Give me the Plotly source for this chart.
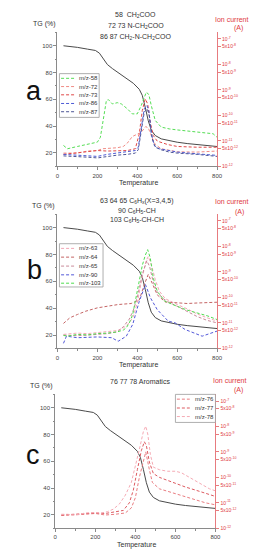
import numpy as np
import plotly.graph_objects as go

# ---------------- data ----------------
temp_tg = [30, 60, 100, 150, 190, 210, 230, 250, 275, 300, 340, 380, 410, 425, 440, 455, 470, 490, 520, 560, 600, 650, 700, 750, 800]
tg = [100, 99.6, 98.8, 97.5, 96.5, 94.5, 90, 86, 83, 80.5, 76.5, 72, 67.5, 63, 54, 44, 37, 33, 30.5, 29, 28, 27, 26.2, 25.5, 24.8]

# ion currents given as log10(A)
a_t58 = [30, 50, 100, 150, 200, 215, 230, 245, 255, 275, 300, 320, 350, 375, 400, 420, 445, 458, 470, 490, 520, 560, 600, 650, 700, 750, 780, 800]
a_mz58 = [-11.18, -11.31, -11.22, -11.14, -11.05, -10.86, -10.20, -9.42, -9.38, -9.55, -9.50, -9.55, -9.74, -9.94, -9.94, -9.61, -9.09, -9.18, -9.61, -10.20, -10.46, -10.53, -10.57, -10.62, -10.66, -10.70, -10.72, -10.86]
a_t72 = [30, 100, 150, 200, 225, 250, 300, 330, 350, 375, 400, 420, 442, 455, 470, 490, 520, 560, 600, 700, 800]
a_mz72 = [-11.48, -11.48, -11.40, -11.38, -11.31, -11.30, -11.27, -11.22, -11.09, -10.83, -10.72, -10.66, -10.44, -10.49, -10.79, -11.14, -11.31, -11.38, -11.43, -11.44, -11.40]
a_t73 = [30, 100, 150, 200, 250, 300, 350, 390, 410, 425, 440, 452, 465, 480, 500, 550, 600, 700, 800]
a_mz73 = [-11.53, -11.48, -11.44, -11.38, -11.40, -11.38, -11.38, -11.31, -10.72, -9.81, -9.35, -9.55, -10.27, -10.79, -11.01, -11.14, -11.22, -11.25, -11.25]
a_t86 = [30, 100, 150, 200, 250, 300, 350, 390, 405, 420, 435, 448, 458, 470, 485, 510, 550, 600, 700, 800]
a_mz86 = [-11.53, -11.56, -11.59, -11.61, -11.53, -11.48, -11.44, -11.38, -11.25, -10.46, -9.74, -9.61, -9.81, -10.72, -11.18, -11.31, -11.38, -11.44, -11.51, -11.57]
a_t87 = [30, 100, 150, 200, 250, 300, 350, 390, 405, 420, 435, 450, 460, 475, 490, 520, 560, 600, 700, 800]
a_mz87 = [-11.59, -11.61, -11.64, -11.67, -11.61, -11.56, -11.53, -11.48, -11.35, -10.59, -9.87, -9.74, -10.01, -10.92, -11.25, -11.35, -11.44, -11.48, -11.53, -11.61]

b_t63 = [30, 100, 150, 200, 250, 300, 330, 360, 380, 400, 425, 445, 455, 470, 490, 510, 540, 570, 600, 650, 700, 750, 800]
b_mz63 = [-11.45, -11.40, -11.42, -11.38, -11.35, -11.30, -11.20, -11.00, -10.75, -10.20, -9.20, -8.55, -8.40, -8.70, -9.30, -9.75, -10.05, -10.15, -10.28, -10.45, -10.65, -10.80, -10.93]
b_t64 = [30, 62, 100, 142, 200, 248, 304, 369, 410, 435, 455, 475, 500, 540, 600, 650, 700, 750, 800]
b_mz64 = [-11.02, -10.80, -10.67, -10.54, -10.41, -10.35, -10.28, -10.24, -10.10, -9.50, -9.10, -9.45, -9.90, -10.18, -10.22, -10.24, -10.22, -10.21, -10.19]
b_t65 = [30, 100, 150, 200, 250, 300, 330, 360, 380, 400, 425, 448, 462, 480, 500, 530, 560, 600, 650, 700, 750, 800]
b_mz65 = [-11.48, -11.50, -11.48, -11.45, -11.42, -11.35, -11.15, -10.85, -10.50, -10.00, -9.10, -8.56, -8.80, -9.40, -9.80, -10.05, -10.20, -10.35, -10.55, -10.75, -10.90, -11.00]
b_t90 = [30, 45, 100, 200, 272, 304, 345, 377, 410, 441, 466, 500, 555, 590, 640, 725, 800]
b_mz90 = [-11.80, -11.52, -11.58, -11.55, -11.58, -11.72, -11.52, -11.06, -10.15, -9.50, -10.02, -10.48, -10.93, -11.00, -11.26, -11.52, -11.32]
b_t103 = [30, 50, 100, 150, 200, 250, 300, 330, 345, 360, 377, 400, 425, 440, 452, 465, 480, 500, 538, 600, 650, 700, 750, 800]
b_mz103 = [-11.49, -11.52, -11.45, -11.47, -11.42, -11.40, -11.35, -11.28, -11.19, -11.00, -10.67, -9.80, -8.75, -8.35, -8.13, -8.45, -9.24, -9.76, -10.15, -10.35, -10.50, -10.61, -10.72, -10.87]

c_t76 = [30, 100, 150, 200, 250, 300, 350, 380, 400, 420, 440, 452, 470, 485, 520, 560, 600, 650, 700, 750, 800]
c_mz76 = [-11.50, -11.48, -11.45, -11.42, -11.48, -11.45, -11.40, -11.20, -10.80, -10.00, -9.30, -9.00, -9.70, -10.20, -10.45, -10.55, -10.65, -10.75, -10.90, -11.00, -11.08]
c_t77 = [30, 100, 150, 200, 250, 300, 340, 370, 390, 410, 430, 445, 455, 470, 490, 520, 560, 600, 650, 700, 750, 800]
c_mz77 = [-11.48, -11.45, -11.42, -11.40, -11.42, -11.35, -11.30, -11.00, -10.50, -9.70, -8.95, -8.60, -8.75, -9.40, -9.85, -10.00, -10.12, -10.22, -10.38, -10.50, -10.62, -10.75]
c_t78 = [30, 60, 100, 150, 200, 230, 260, 290, 320, 350, 380, 400, 420, 440, 452, 462, 475, 490, 520, 560, 600, 630, 670, 720, 770, 800]
c_mz78 = [-11.45, -11.45, -11.48, -11.40, -11.38, -11.40, -11.35, -11.25, -11.05, -10.70, -10.20, -9.60, -8.90, -8.20, -7.99, -8.30, -9.10, -9.60, -9.70, -9.76, -9.76, -9.82, -10.00, -10.25, -10.45, -10.53]

ion_tickvals = [1e-12, 5e-12, 1e-11, 5e-11, 1e-10, 5e-10, 1e-9, 5e-9, 1e-8, 5e-8, 1e-7]
ion_ticktext = ["10<sup>-12</sup>", "5x10<sup>-12</sup>", "10<sup>-11</sup>", "5x10<sup>-11</sup>",
                "10<sup>-10</sup>", "5x10<sup>-10</sup>", "10<sup>-9</sup>", "5x10<sup>-9</sup>",
                "10<sup>-8</sup>", "5x10<sup>-8</sup>", "10<sup>-7</sup>"]

W, H = 259, 550
FONT = "Liberation Sans, Arial, sans-serif"
RED = "#e0393e"


def px(x):
    return x / W


def py(y):
    return 1 - y / H


panels = [
    dict(letter="a", x0=49, x1=213.7, top=24.5, bot=159.2,
         series=[("m/z-58", a_t58, a_mz58, "#55dd55"),
                 ("m/z-72", a_t72, a_mz72, "#f08a84"),
                 ("m/z-73", a_t73, a_mz73, "#e04848"),
                 ("m/z-86", a_t86, a_mz86, "#4d5bd6"),
                 ("m/z-87", a_t87, a_mz87, "#4c5595")],
         title=["58  CH<sub>2</sub>COO", "72 73 N-CH<sub>2</sub>COO", "86 87 CH<sub>2</sub>-N-CH<sub>2</sub>COO"],
         title_x=130, title_y=[7.5, 18.3, 29.2],
         tg_lbl=(36, 15.7), ion_lbl=(229, 11.7), a_lbl=(236, 20.3), letter_pos=(25, 83),
         temp_pos=(132.5, 175.7),
         leg=dict(x0=51, x1=92, y0=66, y1=110, rows=[70.7, 79, 87.3, 96, 104.3], lx0=52.7, lx1=66.7, tx=69, fs=6)),
    dict(letter="b", x0=49, x1=213.7, top=207.3, bot=342.3,
         series=[("m/z-63", b_t63, b_mz63, "#f2a6b4"),
                 ("m/z-64", b_t64, b_mz64, "#c46464"),
                 ("m/z-65", b_t65, b_mz65, "#c98a99"),
                 ("m/z-90", b_t90, b_mz90, "#5258d8"),
                 ("m/z-103", b_t103, b_mz103, "#4fdc4f")],
         title=["63 64 65 C<sub>6</sub>H<sub>x</sub>(X=3,4,5)", "90 C<sub>6</sub>H<sub>5</sub>-CH", "103 C<sub>6</sub>H<sub>5</sub>-CH-CH"],
         title_x=131, title_y=[194, 204, 213.5],
         tg_lbl=(35, 199), ion_lbl=(229, 194.7), a_lbl=(237, 204.7), letter_pos=(25, 263),
         temp_pos=(132.7, 359),
         leg=dict(x0=51, x1=96, y0=237, y1=280.5, rows=[241.7, 250.5, 259.5, 268.3, 276.7], lx0=52.7, lx1=66.7, tx=69, fs=6)),
    dict(letter="c", x0=46.7, x1=212, top=388.5, bot=523.1,
         series=[("m/z-76", c_t76, c_mz76, "#e87c80"),
                 ("m/z-77", c_t77, c_mz77, "#dc5a60"),
                 ("m/z-78", c_t78, c_mz78, "#f5aab4")],
         title=["76 77 78 Aromatics"],
         title_x=134.5, title_y=[375.7],
         tg_lbl=(33, 380), ion_lbl=(227, 375), a_lbl=(235.5, 384.3), letter_pos=(24, 449),
         temp_pos=(130.7, 540.3),
         leg=dict(x0=170.7, x1=212, y0=388.5, y1=416.7, rows=[393.3, 402.2, 410.8], lx0=172.2, lx1=185.5, tx=189, fs=6)),
]

fig = go.Figure()
annotations = []
shapes = []
layout_axes = {}

for i, p in enumerate(panels):
    n = i + 1
    xa = "x" if n == 1 else f"x{n}"
    ya_tg_num = 2 * i + 1
    ya_ion_num = 2 * i + 2
    ya_tg = "y" if ya_tg_num == 1 else f"y{ya_tg_num}"
    ya_ion = f"y{ya_ion_num}"

    # TG curve
    fig.add_trace(go.Scatter(x=temp_tg, y=tg, mode="lines", xaxis=xa, yaxis=ya_tg,
                             line=dict(color="#4a4a4a", width=1), showlegend=False, hoverinfo="skip"))
    for name, tt, vals, col in p["series"]:
        fig.add_trace(go.Scatter(x=tt, y=10 ** np.array(vals), mode="lines", name=name,
                                 xaxis=xa, yaxis=ya_ion, showlegend=False,
                                 line=dict(color=col, width=1, dash="3px,2px")))

    xdom = [px(p["x0"]), px(p["x1"])]
    ydom = [py(p["bot"]), py(p["top"])]
    xkey = "xaxis" if n == 1 else f"xaxis{n}"
    ytgkey = "yaxis" if ya_tg_num == 1 else f"yaxis{ya_tg_num}"
    yionkey = f"yaxis{ya_ion_num}"
    layout_axes[xkey] = dict(domain=xdom, range=[0, 800], anchor=ya_tg, showgrid=False, zeroline=False,
                             showline=True, linecolor="#8a8a8a", linewidth=1,
                             ticks="outside", ticklen=3, tickcolor="#8a8a8a",
                             tickvals=[0, 200, 400, 600, 800],
                             minor=dict(ticks="outside", ticklen=1.5, dtick=100, tickcolor="#8a8a8a"),
                             tickfont=dict(size=6, color="#444", family=FONT))
    layout_axes[ytgkey] = dict(domain=ydom, range=[10, 110], anchor=xa, showgrid=False, zeroline=False,
                               showline=True, linecolor="#8a8a8a", linewidth=1,
                               ticks="outside", ticklen=3, tickcolor="#8a8a8a",
                               tickvals=[20, 40, 60, 80, 100],
                               minor=dict(ticks="outside", ticklen=1.5, dtick=10, tickcolor="#8a8a8a"),
                               tickfont=dict(size=6, color="#444", family=FONT))
    layout_axes[yionkey] = dict(domain=ydom, type="log", range=[-12, -6.74], overlaying=ya_tg, side="right",
                                anchor=xa, showgrid=False, zeroline=False,
                                showline=True, linecolor="#e77b7f", linewidth=1,
                                ticks="outside", ticklen=3, tickcolor="#e77b7f",
                                tickvals=ion_tickvals, ticktext=ion_ticktext,
                                tickfont=dict(size=5, color=RED, family=FONT))

    # titles
    for t, yy in zip(p["title"], p["title_y"]):
        annotations.append(dict(text=t, x=px(p["title_x"]), y=py(yy), xref="paper", yref="paper",
                                showarrow=False, xanchor="center", yanchor="middle",
                                font=dict(size=7, color="#333", family=FONT)))
    annotations.append(dict(text="TG (%)", x=px(p["tg_lbl"][0]), y=py(p["tg_lbl"][1]), xref="paper", yref="paper",
                            showarrow=False, xanchor="center", yanchor="middle",
                            font=dict(size=7, color="#333", family=FONT)))
    annotations.append(dict(text="Ion current", x=px(p["ion_lbl"][0]), y=py(p["ion_lbl"][1]), xref="paper", yref="paper",
                            showarrow=False, xanchor="center", yanchor="middle",
                            font=dict(size=7, color=RED, family=FONT)))
    annotations.append(dict(text="(A)", x=px(p["a_lbl"][0]), y=py(p["a_lbl"][1]), xref="paper", yref="paper",
                            showarrow=False, xanchor="center", yanchor="middle",
                            font=dict(size=7, color=RED, family=FONT)))
    annotations.append(dict(text=p["letter"], x=px(p["letter_pos"][0]), y=py(p["letter_pos"][1]), xref="paper", yref="paper",
                            showarrow=False, xanchor="center", yanchor="middle",
                            font=dict(size=27, color="#111", family=FONT)))
    annotations.append(dict(text="Temperature", x=px(p["temp_pos"][0]), y=py(p["temp_pos"][1]), xref="paper", yref="paper",
                            showarrow=False, xanchor="center", yanchor="middle",
                            font=dict(size=7, color="#333", family=FONT)))

    # legend box
    lg = p["leg"]
    shapes.append(dict(type="rect", xref="paper", yref="paper",
                       x0=px(lg["x0"]), x1=px(lg["x1"]), y0=py(lg["y1"]), y1=py(lg["y0"]),
                       line=dict(color="#9a9a9a", width=0.8), fillcolor="white", layer="above"))
    for (name, tt, vals, col), ry in zip(p["series"], lg["rows"]):
        shapes.append(dict(type="line", xref="paper", yref="paper",
                           x0=px(lg["lx0"]), x1=px(lg["lx1"]), y0=py(ry), y1=py(ry),
                           line=dict(color=col, width=1, dash="3px,2px"), layer="above"))
        annotations.append(dict(text=name, x=px(lg["tx"]), y=py(ry), xref="paper", yref="paper",
                                showarrow=False, xanchor="left", yanchor="middle",
                                font=dict(size=lg["fs"], color="#333", family=FONT)))

fig.update_layout(
    width=W, height=H,
    margin=dict(l=0, r=0, t=0, b=0),
    paper_bgcolor="white", plot_bgcolor="white",
    showlegend=False,
    annotations=annotations,
    shapes=shapes,
    font=dict(family=FONT),
    **layout_axes,
)

fig.write_html("out.html")
